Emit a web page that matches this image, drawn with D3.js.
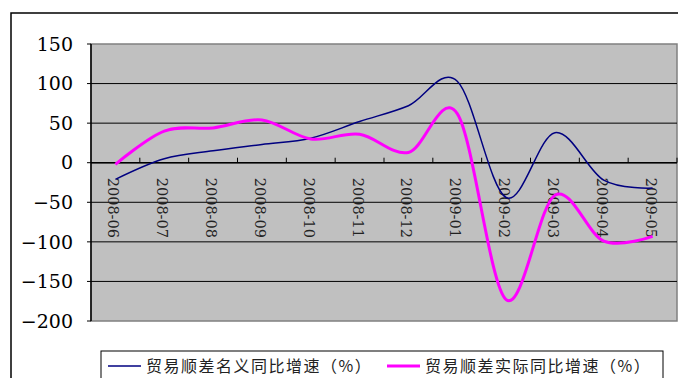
<!DOCTYPE html>
<html><head><meta charset="utf-8">
<script src="https://cdn.jsdelivr.net/npm/d3@7"></script>
<style>body{margin:0;background:#fff}svg{display:block}</style>
</head><body>
<svg id="c" width="678" height="378"></svg>
<script>
const categories = ["2008-06","2008-07","2008-08","2008-09","2008-10","2008-11","2008-12","2009-01","2009-02","2009-03","2009-04","2009-05"];
const nominal = [-21, 5, 15, 23, 31, 52, 72, 103, -44, 38, -22, -32];
const real = [-2, 40, 44, 54, 30, 36, 13, 62, -173, -41, -99, -93];
const yTicks = [150, 100, 50, 0, -50, -100, -150, -200];
const seriesNames = ["贸易顺差名义同比增速（%）", "贸易顺差实际同比增速（%）"];
const colors = ["#000080", "#FF00FF"];

const svg = d3.select("#c");
svg.append("rect").attr("x",11).attr("y",13).attr("width",700).attr("height",400)
  .attr("fill","#fff").attr("stroke","#000").attr("stroke-width",1.5);

const L=91,R=677,T=44,B=321;
const x = d3.scaleBand().domain(categories).range([L,R]).padding(0);
const y = d3.scaleLinear().domain([-200,150]).range([B,T]);

svg.append("rect").attr("x",L).attr("y",T).attr("width",R-L).attr("height",B-T)
  .attr("fill","#c0c0c0").attr("stroke","#808080").attr("stroke-width",1.5);

svg.append("g").selectAll("line").data(yTicks.filter(v=>v!==150 && v!==-200)).join("line")
  .attr("x1",L).attr("x2",R).attr("y1",d=>y(d)).attr("y2",d=>y(d))
  .attr("stroke","#000").attr("stroke-width",1);

svg.append("line").attr("x1",L).attr("x2",L).attr("y1",T).attr("y2",B).attr("stroke","#000").attr("stroke-width",1.5);
svg.append("g").selectAll("line").data(yTicks).join("line")
  .attr("x1",L-4).attr("x2",L).attr("y1",d=>y(d)).attr("y2",d=>y(d)).attr("stroke","#000");
svg.append("g").selectAll("text").data(yTicks).join("text")
  .attr("x",73).attr("y",d=>y(d)).attr("dy","0.35em").attr("text-anchor","end")
  .style("font-family","'DejaVu Serif', serif").attr("font-size",19)
  .text(d=>d<0?"\u2212"+Math.abs(d):d);

svg.append("line").attr("x1",L).attr("x2",R).attr("y1",y(0)).attr("y2",y(0)).attr("stroke","#000").attr("stroke-width",1.5);
const bounds = categories.map(c=>x(c)).slice(1).concat([R]);
svg.append("g").selectAll("line").data(bounds).join("line")
  .attr("x1",d=>d).attr("x2",d=>d).attr("y1",y(0)-5).attr("y2",y(0)).attr("stroke","#000");

svg.append("g").selectAll("text").data(categories).join("text")
  .attr("transform",d=>`translate(${x(d)+x.bandwidth()/2-7},${y(0)+15}) rotate(90)`)
  .style("font-family","'DejaVu Serif', serif").attr("font-size",14.5)
  .attr("fill","#222")
  .text(d=>d);

const line = d3.line().x((d,i)=>x(categories[i])+x.bandwidth()/2).y(d=>y(d)).curve(d3.curveCardinal.tension(0));
svg.append("path").datum(nominal).attr("d",line).attr("fill","none").attr("stroke",colors[0]).attr("stroke-width",1.5);
svg.append("path").datum(real).attr("d",line).attr("fill","none").attr("stroke",colors[1]).attr("stroke-width",3);

svg.append("rect").attr("x",101).attr("y",351).attr("width",562).attr("height",40)
  .attr("fill","#fff").attr("stroke","#000").attr("stroke-width",1);
const lx = [108, 387];
seriesNames.forEach((n,i)=>{
  svg.append("line").attr("x1",lx[i]).attr("x2",lx[i]+33).attr("y1",366).attr("y2",366)
    .attr("stroke",colors[i]).attr("stroke-width",i?3:1.5);
  svg.append("text").attr("x",lx[i]+38).attr("y",366).attr("dy","0.35em")
    .style("font-family","'Noto Sans CJK SC'").attr("font-size",16).attr("letter-spacing",1.5).attr("fill","#222").text(n);
});
</script>
</body></html>
